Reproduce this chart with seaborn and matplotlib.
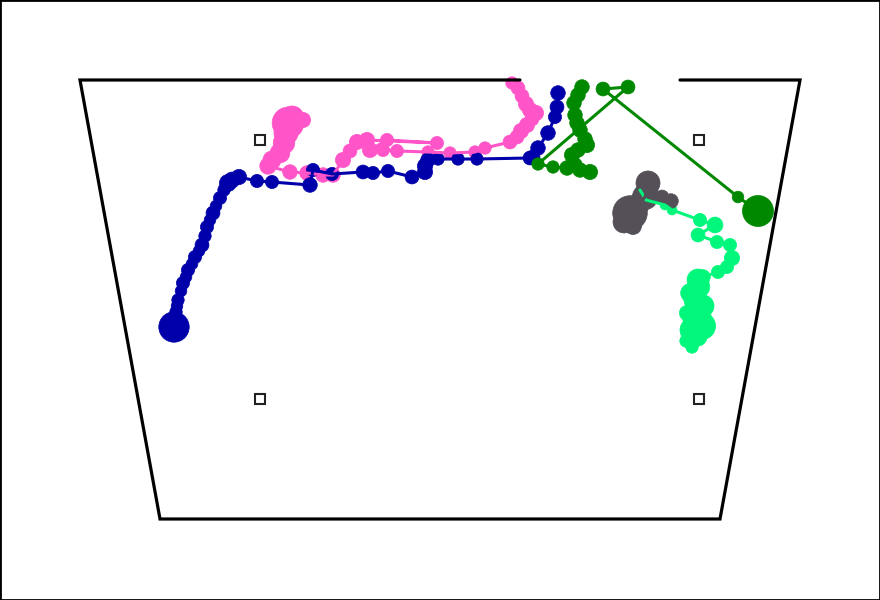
import numpy as np
import pandas as pd
import seaborn as sns
import matplotlib.pyplot as plt
from matplotlib.patches import Rectangle

# arena outline (pixel coords of the tracking frame), open at the top right
arena_x = [520, 80, 160, 720, 800, 680]
arena_y = [80, 80, 519, 519, 80, 80]

# reference markers
ref_x = [260, 699, 260, 699]
ref_y = [140, 140, 399, 399]

# trajectories: x, y, dwell (marker area)
blue_x = [558, 557, 555, 548, 538, 533, 530, 477, 458, 438, 428, 425, 425, 412, 388, 373, 363,
          332, 313, 310, 272, 257, 239, 232, 228, 224, 220, 216, 213, 210, 207, 205, 202, 199,
          195, 192, 188, 186, 183, 181, 178, 177, 176, 174]
blue_y = [93, 107, 117, 133, 148, 157, 158, 159, 159, 159, 160, 166, 172, 177, 171, 173, 172,
          174, 170, 185, 182, 181, 177, 180, 183, 190, 198, 206, 213, 220, 227, 236, 245, 251,
          257, 264, 270, 277, 283, 291, 300, 306, 312, 327]
blue_dwell = [110, 100, 90, 110, 110, 100, 100, 80, 80, 80, 110, 120, 120, 100, 90, 90, 100,
              90, 90, 110, 90, 90, 120, 130, 150, 80, 90, 70, 100, 70, 90, 80, 100, 70,
              90, 70, 90, 70, 90, 70, 80, 70, 80, 480]

pink_x = [512, 518, 522, 526, 530, 536, 532, 527, 521, 517, 510, 485, 475, 450, 428, 397, 383,
          370, 387, 437, 367, 357, 350, 343, 333, 323, 307, 290, 268, 272, 280, 284, 286, 288,
          292, 303]
pink_y = [83, 88, 96, 104, 110, 113, 119, 125, 131, 137, 142, 148, 152, 153, 152, 151, 150,
          150, 140, 143, 140, 142, 151, 160, 175, 175, 173, 172, 166, 160, 153, 143, 133, 123,
          118, 120]
pink_dwell = [80, 100, 100, 120, 120, 120, 100, 120, 120, 100, 100, 80, 80, 80, 80, 90, 90,
              120, 90, 90, 120, 120, 100, 120, 110, 110, 110, 110, 140, 170, 200, 240, 300, 520,
              300, 120]

green_x = [582, 578, 574, 575, 577, 580, 585, 587, 578, 572, 575, 590, 580, 567, 553, 538,
           628, 603, 738, 758]
green_y = [87, 95, 103, 115, 123, 130, 139, 145, 150, 155, 165, 172, 170, 168, 167, 164,
           87, 89, 197, 211]
green_dwell = [110, 110, 110, 110, 110, 110, 110, 120, 110, 120, 110, 120, 110, 110, 80, 80,
               100, 100, 70, 500]

lime_x = [640, 646, 665, 672, 700, 715, 698, 717, 730, 732, 727, 718, 703, 698, 700, 690, 695,
          703, 687, 697, 702, 692, 697, 686, 692]
lime_y = [190, 200, 205, 210, 220, 225, 235, 242, 245, 258, 267, 272, 277, 280, 287, 293, 300,
          306, 313, 318, 326, 330, 336, 341, 347]
lime_dwell = [40, 40, 50, 50, 90, 130, 100, 90, 90, 120, 90, 90, 110, 250, 200, 180, 250,
              250, 120, 420, 380, 300, 220, 80, 80]

gray_x = [671, 662, 648, 645, 638, 630, 624, 633]
gray_y = [201, 197, 183, 197, 205, 213, 222, 226]
gray_dwell = [110, 100, 300, 330, 250, 620, 250, 150]

tracks = [
    ("pink", pink_x, pink_y, pink_dwell, "#ff55c8"),
    ("blue", blue_x, blue_y, blue_dwell, "#0000aa"),
    ("green", green_x, green_y, green_dwell, "#008800"),
    ("lime", lime_x, lime_y, lime_dwell, "#00f77c"),
    ("gray", gray_x, gray_y, gray_dwell, "#555058"),
]

sns.set_style("white")
fig = plt.figure(figsize=(8.8, 6.0), dpi=100)
ax = fig.add_axes([0, 0, 1, 1])

ax.plot(arena_x, arena_y, color="black", lw=2.3, solid_joinstyle="miter")
ax.plot(ref_x, ref_y, ls="none", marker="s", ms=7.5, mfc="white",
        mec="#222222", mew=1.5)

for name, xs, ys, dw, col in tracks:
    df = pd.DataFrame({"x": xs, "y": ys, "dwell": dw})
    sns.lineplot(data=df, x="x", y="y", sort=False, estimator=None,
                 color=col, lw=2.2, ax=ax)
    sns.scatterplot(data=df, x="x", y="y", size="dwell", sizes=(20, 800),
                    size_norm=(20, 800), color=col, edgecolor=col,
                    linewidth=0.5, legend=False, ax=ax)

ax.set_xlim(0, 880)
ax.set_ylim(600, 0)
ax.set_axis_off()

fig.patches.append(Rectangle((0, 0), 1, 1, transform=fig.transFigure,
                             fill=False, edgecolor="black", lw=2))

fig.savefig("out.png", dpi=100)
